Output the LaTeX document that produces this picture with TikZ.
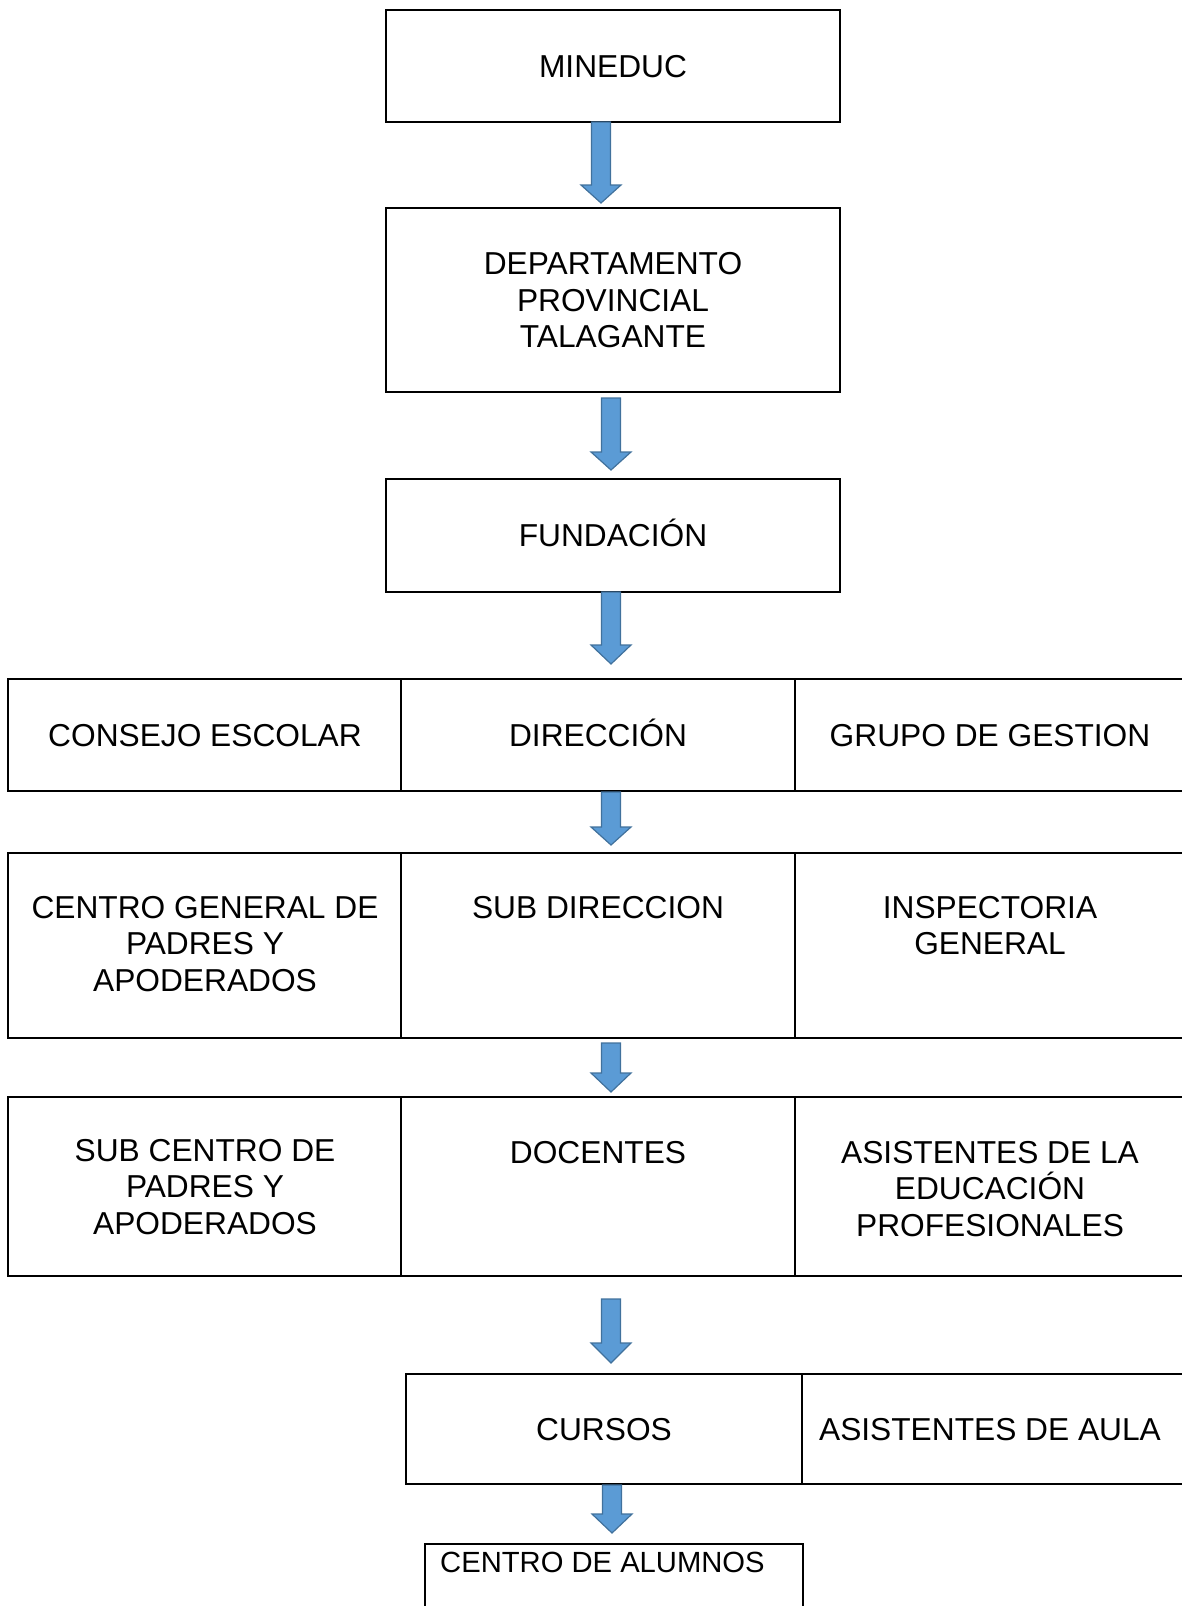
\documentclass[tikz,border=0pt]{standalone}
\usepackage{fontspec}
\setmainfont{Liberation Sans}
\begin{document}
\begin{tikzpicture}[x=1pt,y=-1pt,
  box/.style={draw=black,line width=2pt,inner sep=0pt},
  txt/.style={font=\fontsize{31.7}{36.6}\selectfont,align=center,inner sep=0pt,text depth=0pt},
  one/.style={txt,text height=22.7pt},
  fatarrow/.style={fill=arrowfill,draw=arrowline,line width=1.2pt,line join=miter}]
\definecolor{arrowfill}{HTML}{5B9BD5}
\definecolor{arrowline}{HTML}{41719C}
\useasboundingbox (0,0) rectangle (1182,1606);
\clip (0,0) rectangle (1182,1606);
\newcommand\fatarr[4]{% cx, top, headstart, tip
  \draw[fatarrow] (#1-9.5,#2) -- (#1+9.5,#2) -- (#1+9.5,#3) -- (#1+20,#3) -- (#1,#4) -- (#1-20,#3) -- (#1-9.5,#3) -- cycle;}
% top boxes
\draw[box] (386,10) rectangle (840,122);
\node[one] (mineduc) at (613,66) {MINEDUC};
\draw[box] (386,208) rectangle (840,392);
\node[txt] (depto) at (613,300) {DEPARTAMENTO\\PROVINCIAL\\TALAGANTE};
\draw[box] (386,479) rectangle (840,592);
\node[one] (fund) at (613,535) {FUNDACIÓN};
% row 1
\draw[box] (8,679) rectangle (1190,791);
\draw[box] (401,679) -- (401,791);
\draw[box] (795,679) -- (795,791);
\node[one] (consejo) at (205,735) {CONSEJO ESCOLAR};
\node[one] (direccion) at (598,735) {DIRECCIÓN};
\node[one] (grupo) at (990,735) {GRUPO DE GESTION};
% row 2
\draw[box] (8,853) rectangle (1190,1038);
\draw[box] (401,853) -- (401,1038);
\draw[box] (795,853) -- (795,1038);
\node[txt,anchor=north] (cgpa) at (205,896) {CENTRO GENERAL DE\\PADRES Y\\APODERADOS};
\node[txt,anchor=north] (subdir) at (598,896) {SUB DIRECCION};
\node[txt,anchor=north] (insp) at (990,896) {INSPECTORIA\\GENERAL};
% row 3
\draw[box] (8,1097) rectangle (1190,1276);
\draw[box] (401,1097) -- (401,1276);
\draw[box] (795,1097) -- (795,1276);
\node[txt,anchor=north] (subcentro) at (205,1139) {SUB CENTRO DE\\PADRES Y\\APODERADOS};
\node[txt,anchor=north] (docentes) at (598,1141) {DOCENTES};
\node[txt,anchor=north] (asist) at (990,1141) {ASISTENTES DE LA\\EDUCACIÓN\\PROFESIONALES};
% row 4
\draw[box] (406,1374) rectangle (1190,1484);
\draw[box] (802,1374) -- (802,1484);
\node[one] (cursos) at (604,1429) {CURSOS};
\node[one] (aula) at (990,1429) {ASISTENTES DE AULA};
% bottom box
\draw[box] (425,1544) rectangle (803,1620);
\node[one,anchor=base west,font=\fontsize{29.2}{34}\selectfont] (alumnos) at (440,1572) {CENTRO DE ALUMNOS};
% arrows
\fatarr{601}{122}{185}{203}
\fatarr{611}{398}{452}{470}
\fatarr{611}{592}{645}{664}
\fatarr{611}{792}{827}{845}
\fatarr{611}{1043}{1073}{1092}
\fatarr{611}{1299}{1343}{1363}
\fatarr{612}{1485}{1514}{1533}
\end{tikzpicture}
\end{document}
